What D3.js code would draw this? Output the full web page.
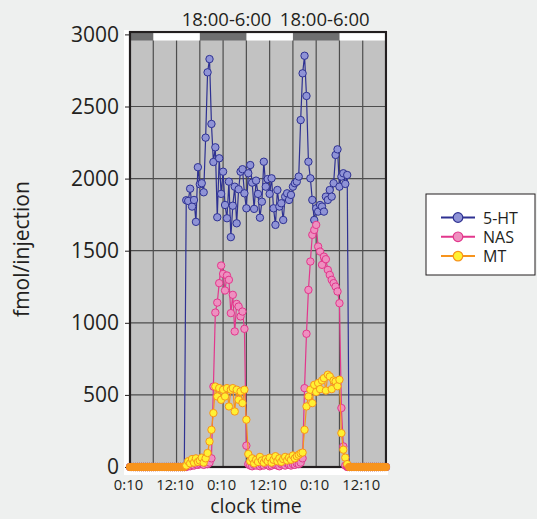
<!DOCTYPE html>
<html><head><meta charset="utf-8">
<script src="https://cdn.jsdelivr.net/npm/d3@7"></script>
<style>
html,body{margin:0;padding:0;background:#eef0ef;}
svg{display:block;font-family:"Open Sans",sans-serif;}
</style></head><body>
<svg id="c" width="537" height="519"></svg>
<script>
// ---- data ----
const startHour = 0, stepHours = 0.5;           // samples every 30 min from 0:10
const xTickHours  = [0, 12, 24, 36, 48, 60];
const xTickLabels = ["0:10", "12:10", "0:10", "12:10", "0:10", "12:10"];
const yTicks = [0, 500, 1000, 1500, 2000, 2500, 3000];
const gridHours = [6, 12, 18, 24, 30, 36, 42, 48, 54, 60];
const darkPeriods = [[0, 6], [18, 30], [42, 54]];
const lightPeriods = [[6, 18], [30, 42], [54, 66]];
const periodLabels = ["18:00-6:00", "18:00-6:00"];
const periodLabelHours = [24.9, 50.2];
const seriesNames = ["5-HT", "NAS", "MT"];

const ht5 = [
  0,0,0,0,0,0,0,0,0,0, 0,0,0,0,0,0,0,0,0,0, 0,0,0,0,0,0,0,0,0,
  1850,1845,1930,1806,1852,1700,2079,1961,1968,1905,
  2284,2737,2829,2379,2115,2217,1732,2141,1894,2048,
  1817,1725,1979,1594,1812,1944,1690,1926,2048,2065,
  1898,1794,2037,2094,1972,1790,1986,1894,1729,1840,
  2117,1944,1997,1894,2002,1794,1679,1921,1806,1829,
  1713,1875,1898,1852,1887,1944,1968,1979,2014,2406,
  2730,2852,2573,2117,2002,1852,1713,1794,1771,1817,
  1806,1771,1875,1852,1921,1875,1968,2164,2203,1944,
  2014,2037,1963,2025,
  0,0,0,0,0,0,0,0,0,0, 0,0,0,0,0,0,0,0,0,0
];
const nas = [
  0,0,0,0,0,0,0,0,0,0, 0,0,0,0,0,0,0,0,0,0, 0,0,0,0,0,0,0,0,0,
  0,10,5,15,10,20,15,20,25,15,30,20,30,60,
  558,1071,1140,1275,1397,1339,1224,1328,1298,1067,1194,940,1131,1113,1044,1078,958,148,
  20,10,5,15,10,20,5,15,10,20,15,5,10,20,15,10,5,20,15,10,25,15,10,20,15,25,20,30,60,
  547,924,1228,1425,1610,1644,1679,1529,1494,1402,1459,1441,1367,1332,1298,1275,1251,1217,1136,409,143,10,
  0,0,0,0,0,0,0,0,0,0, 0,0,0,0,0,0,0,0,0,0,0
];
const mt = [
  0,0,0,0,0,0,0,0,0,0, 0,0,0,0,0,0,0,0,0,0, 0,0,0,0,0,0,0,0,0,
  10,40,25,55,30,60,35,45,65,30,
  60,97,177,258,374,
  558,489,547,466,536,489,547,420,536,547,385,536,466,524,443,536,328,
  90,40,60,25,50,35,70,45,30,55,40,65,30,50,75,40,60,35,55,70,45,65,50,80,60,75,85,95,
  100,258,420,489,536,443,570,520,582,540,600,616,530,640,628,540,600,593,560,605,
  235,120,65,20,
  0,0,0,0,0,0,0,0,0,0, 0,0,0,0,0,0,0,0,0,0
];
const seriesValues = [ht5, nas, mt];
const seriesLine = ["#2e3192", "#e2378c", "#f7941d"];
const seriesFill = ["#8f93d6", "#ee90c0", "#fff133"];

// ---- layout ----
const svg = d3.select("#c");
const L = 130, R = 386, T = 32, B = 467;
const x = d3.scaleLinear().domain([0, 66]).range([L, R]);
const y = d3.scaleLinear().domain([0, 3000]).range([467, 34.4]);
const ink = "#231f20";

svg.append("rect").attr("x", 124).attr("y", 30).attr("width", 264).attr("height", 445).attr("fill", "#fff");
svg.append("rect").attr("x", L).attr("y", T).attr("width", R - L).attr("height", B - T).attr("fill", "#c2c2c2");

// grid
svg.append("g").selectAll("line").data(gridHours).join("line")
  .attr("x1", d => x(d)).attr("x2", d => x(d)).attr("y1", T).attr("y2", B)
  .attr("stroke", "#4d4d4d").attr("stroke-width", 1.2);
svg.append("g").selectAll("line").data(yTicks.filter(v => v > 0 && v < 3000)).join("line")
  .attr("x1", L).attr("x2", R).attr("y1", d => y(d)).attr("y2", d => y(d))
  .attr("stroke", "#4d4d4d").attr("stroke-width", 1.2);

// light/dark band
const bandH = 8.5;
svg.append("g").selectAll("rect").data(darkPeriods).join("rect")
  .attr("x", d => x(d[0])).attr("width", d => x(d[1]) - x(d[0]))
  .attr("y", T).attr("height", bandH).attr("fill", "#6f6f70");
svg.append("g").selectAll("rect").data(lightPeriods).join("rect")
  .attr("x", d => x(d[0])).attr("width", d => x(d[1]) - x(d[0]))
  .attr("y", T).attr("height", bandH).attr("fill", "#ffffff");

// frame
svg.append("rect").attr("x", L).attr("y", T).attr("width", R - L).attr("height", B - T)
  .attr("fill", "none").attr("stroke", ink).attr("stroke-width", 2.2);

// y axis
const yAxis = d3.axisLeft(y).tickValues(yTicks).tickSize(5).tickPadding(6).tickFormat(d3.format("d"));
const ya = svg.append("g").attr("transform", `translate(${L},0)`).call(yAxis);
ya.select(".domain").remove();
ya.selectAll("line").attr("stroke", ink);
ya.selectAll("text").attr("fill", ink).style("font-size", "21px").style("font-family", "Open Sans");

// x axis
const xAxis = d3.axisBottom(x).tickValues(xTickHours).tickSize(0).tickPadding(0)
  .tickFormat((d, i) => xTickLabels[i]);
const xa = svg.append("g").attr("transform", `translate(-2,${479.5})`).call(xAxis);
xa.select(".domain").remove();
xa.selectAll("text").attr("fill", ink).style("font-size", "14.8px").style("font-family", "Open Sans");

// series
const hours = ht5.map((_, i) => startHour + i * stepHours);
seriesValues.forEach((vals, k) => {
  const pts = vals.map((v, i) => ({ h: hours[i], v }));
  const g = svg.append("g");
  g.append("path").datum(pts)
    .attr("d", d3.line().x(d => x(d.h)).y(d => y(d.v)))
    .attr("fill", "none").attr("stroke", seriesLine[k]).attr("stroke-width", 1.2);
  g.selectAll("circle").data(pts).join("circle")
    .attr("cx", d => x(d.h)).attr("cy", d => y(d.v)).attr("r", 3.7)
    .attr("fill", d => d.v === 0 ? seriesLine[k] : seriesFill[k])
    .attr("stroke", seriesLine[k]).attr("stroke-width", 1);
});

// period labels
svg.append("g").selectAll("text").data(periodLabels).join("text")
  .attr("x", (d, i) => x(periodLabelHours[i])).attr("y", 26)
  .attr("text-anchor", "middle").attr("fill", ink).style("font-size", "18.5px")
  .text(d => d);

// axis titles
svg.append("text").attr("x", 256).attr("y", 513.2).attr("text-anchor", "middle")
  .attr("fill", ink).style("font-size", "19.5px").text("clock time");
svg.append("text").attr("transform", "translate(29,249) rotate(-90)").attr("text-anchor", "middle")
  .attr("fill", ink).style("font-size", "21px").text("fmol/injection");

// legend
const lg = svg.append("g");
lg.append("rect").attr("x", 426).attr("y", 194).attr("width", 109).attr("height", 81)
  .attr("fill", "#fff").attr("stroke", ink).attr("stroke-width", 1);
const rows = lg.selectAll("g").data(seriesNames).join("g")
  .attr("transform", (d, i) => `translate(0,${217.5 + i * 19.3})`);
rows.append("line").attr("x1", 441).attr("x2", 475).attr("stroke", (d, i) => seriesLine[i]).attr("stroke-width", 2);
rows.append("circle").attr("cx", 458).attr("r", 4.8)
  .attr("fill", (d, i) => seriesFill[i]).attr("stroke", (d, i) => seriesLine[i]).attr("stroke-width", 1.2);
rows.append("text").attr("x", 483).attr("y", 6).attr("fill", ink).style("font-size", "16px").text(d => d);
</script>
</body></html>
